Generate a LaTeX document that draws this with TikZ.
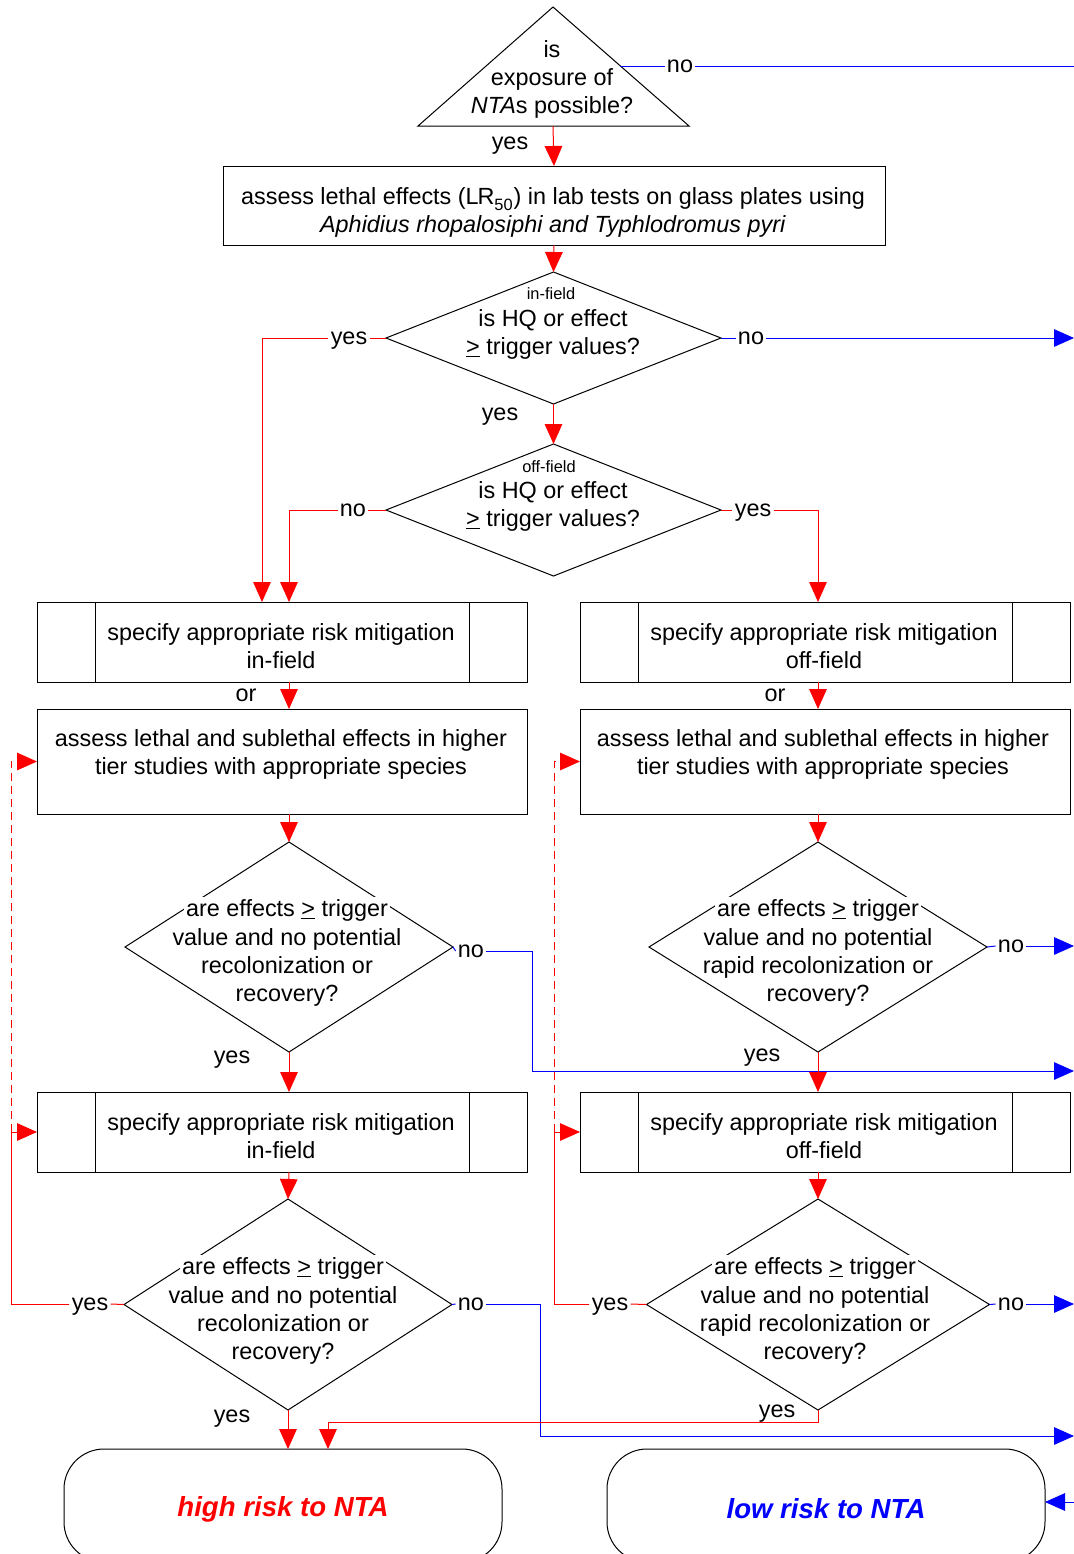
\documentclass[tikz,border=0pt]{standalone}
\usepackage{fontspec}
\setmainfont{Liberation Sans}
\usetikzlibrary{arrows.meta,shapes.geometric,calc}
\begin{document}
\begin{tikzpicture}[x=0.5pt,y=-0.5pt,
  font=\fontsize{11.7}{14}\selectfont,
  every node/.style={inner sep=1pt, outer sep=0pt},
  ln/.style={line width=0.5pt},
  box/.style={draw, line width=0.5pt, rectangle, align=center},
  dia/.style={draw, line width=0.5pt, diamond, inner sep=0pt},
  txt/.style={align=center, yshift=-1pt},
  toptxt/.style={fill=white, yshift=-1pt},
  small/.style={font=\fontsize{8.2}{10}\selectfont, yshift=-0.5pt},
  lbl/.style={inner sep=1.2pt, text height=1.3ex, text depth=0pt},
  rl/.style={draw=red, line width=0.5pt},
  bl/.style={draw=blue, line width=0.5pt},
  rar/.style={rl, -{Triangle[length=10pt,width=8.8pt]}},
  bar/.style={bl, -{Triangle[length=10pt,width=8.8pt]}},
  dsh/.style={dash pattern=on 4pt off 2.5pt},
  term/.style={draw, line width=0.5pt, rounded corners=20pt, minimum width=219pt, minimum height=56.5pt},
  termtxt/.style={font=\fontsize{13.8}{16}\selectfont\bfseries\itshape, yshift=-1pt},
]
\useasboundingbox (0,0) rectangle (1074,1554);
\clip (0,0) rectangle (1074,1554);

% ---------- triangle ----------
\coordinate (tA) at (553,7);
\coordinate (tL) at (418,126);
\coordinate (tR) at (689,126);
\coordinate (tNo) at (620,66);
\coordinate (tBot) at (553,126);
\coordinate (eTop) at (1074,66);
\draw[ln] (tA) -- (tL) -- (tR) -- cycle;
\node[txt] (q0) at (552,77) {is\\exposure of\\\textit{NTA}s possible?};
\node[lbl] (no0) at (680,66) {no};
\draw[bl] (tNo) -- (no0.west);
\draw[bl] (no0.east) -- (eTop);
\node[lbl] (yes0) at (510,143) {yes};

% ---------- box 1 ----------
\node[box, minimum width=331pt, minimum height=39.5pt] (b1) at (554,205.5) {};
\node[txt] (b1t) at (553,210)
  {assess lethal effects (L\kern-.6pt R\raisebox{-1.2pt}{\textsubscript{50}}) in lab tests on glass plates using\\\textit{Aphidius rhopalosiphi and Typhlodromus pyri}};
\draw[rar] (tBot) -- (b1.north);

% ---------- diamond 1 ----------
\node[dia, minimum width=167.5pt, minimum height=66pt] (d1) at (553.5,338) {};
\node[small] (d1a) at (551,293) {in-field};
\node[txt] (d1b) at (553,332) {is HQ or effect\\\underline{>} trigger values?};
\draw[rar] (b1.south) -- (d1.north);

% ---------- diamond 2 ----------
\node[dia, minimum width=167.5pt, minimum height=66pt] (d2) at (553.5,510) {};
\node[small] (d2a) at (549,466) {off-field};
\node[txt] (d2b) at (553,504) {is HQ or effect\\\underline{>} trigger values?};
\node[lbl] (y1b) at (500,414) {yes};
\draw[rar] (d1.south) -- (d2.north);

% ---------- specify boxes (top) ----------
\node[box, minimum width=245pt, minimum height=40pt] (s1) at (282,642) {};
\node[txt] (s1t) at (281,644) {specify appropriate risk mitigation\\in-field};
\draw[ln] ([xshift=29pt]s1.north west) -- ([xshift=29pt]s1.south west);
\draw[ln] ([xshift=-29pt]s1.north east) -- ([xshift=-29pt]s1.south east);

\node[box, minimum width=245pt, minimum height=40pt] (s2) at (825,642) {};
\node[txt] (s2t) at (824,644) {specify appropriate risk mitigation\\off-field};
\draw[ln] ([xshift=29pt]s2.north west) -- ([xshift=29pt]s2.south west);
\draw[ln] ([xshift=-29pt]s2.north east) -- ([xshift=-29pt]s2.south east);

% diamond 1 exits
\node[lbl] (y1) at (349,338) {yes};
\draw[rl] (d1.west) -- (y1.east);
\draw[rar] (y1.west) -| ([xshift=-10pt]s1.north);
\node[lbl] (n1) at (751,338) {no};
\coordinate (eN1) at (1074,338);
\draw[bl] (d1.east) -- (n1.west);
\draw[bar] (n1.east) -- (eN1);

% diamond 2 exits
\node[lbl] (n2) at (353,510) {no};
\draw[rl] (d2.west) -- (n2.east);
\draw[rar] (n2.west) -| ([xshift=3.5pt]s1.north);
\node[lbl] (y2) at (753,510) {yes};
\draw[rl] (d2.east) -- (y2.west);
\draw[rar] (y2.east) -| ([xshift=-3.5pt]s2.north);

% ---------- assess boxes ----------
\node[box, minimum width=245pt, minimum height=52.5pt] (a1) at (282,761.5) {};
\node[txt] (a1t) at (281,752) {assess lethal and sublethal effects in higher\\tier studies with appropriate species};
\node[box, minimum width=245pt, minimum height=52.5pt] (a2) at (825,761.5) {};
\node[txt] (a2t) at (823,752) {assess lethal and sublethal effects in higher\\tier studies with appropriate species};
\node[lbl] (or1) at (246,695) {or};
\node[lbl] (or2) at (775,695) {or};
\draw[rar] ([xshift=3.5pt]s1.south) -- ([xshift=3.5pt]a1.north);
\draw[rar] ([xshift=-3.5pt]s2.south) -- ([xshift=-3.5pt]a2.north);

% ---------- diamond 3 left ----------
\node[dia, minimum width=164pt, minimum height=105pt] (d3L) at (289,947) {};
\node[toptxt] (d3La) at (287,908) {are effects \underline{>} trigger};
\node[txt] (d3Lb) at (287,965) {value and no potential\\recolonization or\\recovery?};
\draw[rar] ([xshift=3.5pt]a1.south) -- (d3L.north);
\node[lbl] (n3) at (471,951) {no};
\coordinate (k3) at (532,1071);
\coordinate (eN3) at (1074,1071);
\draw[bl] (d3L.east) -- (n3.west);
\draw[bar] (n3.east) -| (k3) -- (eN3);
\node[lbl] (y3) at (232,1057) {yes};

% ---------- diamond 3 right ----------
\node[dia, minimum width=169pt, minimum height=105pt] (d3R) at (818,947) {};
\node[toptxt] (d3Ra) at (818,908) {are effects \underline{>} trigger};
\node[txt] (d3Rb) at (818,965) {value and no potential\\rapid recolonization or\\recovery?};
\draw[rar] ([xshift=-3.5pt]a2.south) -- (d3R.north);
\node[lbl] (n3R) at (1011,946) {no};
\coordinate (eN3R) at (1074,946);
\draw[bl] (d3R.east) -- (n3R.west);
\draw[bar] (n3R.east) -- (eN3R);
\node[lbl] (y3R) at (762,1055) {yes};

% ---------- specify boxes (bottom) ----------
\node[box, minimum width=245pt, minimum height=40pt] (s3) at (282,1132) {};
\node[txt] (s3t) at (281,1134) {specify appropriate risk mitigation\\in-field};
\draw[ln] ([xshift=29pt]s3.north west) -- ([xshift=29pt]s3.south west);
\draw[ln] ([xshift=-29pt]s3.north east) -- ([xshift=-29pt]s3.south east);
\node[box, minimum width=245pt, minimum height=40pt] (s4) at (825,1132) {};
\node[txt] (s4t) at (824,1134) {specify appropriate risk mitigation\\off-field};
\draw[ln] ([xshift=29pt]s4.north west) -- ([xshift=29pt]s4.south west);
\draw[ln] ([xshift=-29pt]s4.north east) -- ([xshift=-29pt]s4.south east);
\draw[rar] (d3L.south) -- ([xshift=3.5pt]s3.north);
\draw[rar] (d3R.south) -- ([xshift=-3.5pt]s4.north);

% ---------- diamond 4 left ----------
\node[dia, minimum width=164pt, minimum height=105.5pt] (d4L) at (288,1304.5) {};
\node[toptxt] (d4La) at (283,1266) {are effects \underline{>} trigger};
\node[txt] (d4Lb) at (283,1323) {value and no potential\\recolonization or\\recovery?};
\draw[rar] ([xshift=3.5pt]s3.south) -- (d4L.north);

% ---------- diamond 4 right ----------
\node[dia, minimum width=171.5pt, minimum height=105.5pt] (d4R) at (818,1304.5) {};
\node[toptxt] (d4Ra) at (815,1266) {are effects \underline{>} trigger};
\node[txt] (d4Rb) at (815,1323) {value and no potential\\rapid recolonization or\\recovery?};
\draw[rar] ([xshift=-3.5pt]s4.south) -- (d4R.north);

% ---------- terminals ----------
\node[term] (hL) at (283,1505.5) {};
\node[termtxt, text=red] (hLt) at (283,1507) {high risk to NTA};
\node[term] (lo) at (826,1505.5) {};
\node[termtxt, text=blue] (lot) at (826,1507) {low risk to NTA};

% diamond 4 left exits
\node[lbl] (y4) at (90,1304) {yes};
\coordinate (k4a) at (11,1304);
\coordinate (k4b) at (11,1132);
\draw[rl] (d4L.west) -- (y4.east);
\draw[rar] (y4.west) -- (k4a) |- (s3.west);
\draw[rar, dsh] (k4b) |- (a1.west);
\node[lbl] (n4) at (471,1304) {no};
\coordinate (k5) at (540,1436);
\coordinate (eN4) at (1074,1436);
\draw[bl] (d4L.east) -- (n4.west);
\draw[bar] (n4.east) -| (k5) -- (eN4);
\node[lbl] (y4b) at (232,1416) {yes};
\draw[rar] (d4L.south) -- (d4L.south |- hL.north);

% diamond 4 right exits
\node[lbl] (y4R) at (610,1304) {yes};
\coordinate (k6a) at (554,1304);
\coordinate (k6b) at (554,1132);
\draw[rl] (d4R.west) -- (y4R.east);
\draw[rar] (y4R.west) -- (k6a) |- (s4.west);
\draw[rar, dsh] (k6b) |- (a2.west);
\node[lbl] (n4R) at (1011,1304) {no};
\coordinate (eN4R) at (1074,1304);
\draw[bl] (d4R.east) -- (n4R.west);
\draw[bar] (n4R.east) -- (eN4R);
\node[lbl] (y4Rb) at (777,1411) {yes};
\coordinate (k7) at (818,1422);
\draw[rar] (d4R.south) -- (k7) -| ([xshift=22.5pt]hL.north);

% arrow into low risk
\coordinate (eL) at (1074,1502);
\draw[bar] (eL) -- (eL -| lo.east);
\end{tikzpicture}
\end{document}
